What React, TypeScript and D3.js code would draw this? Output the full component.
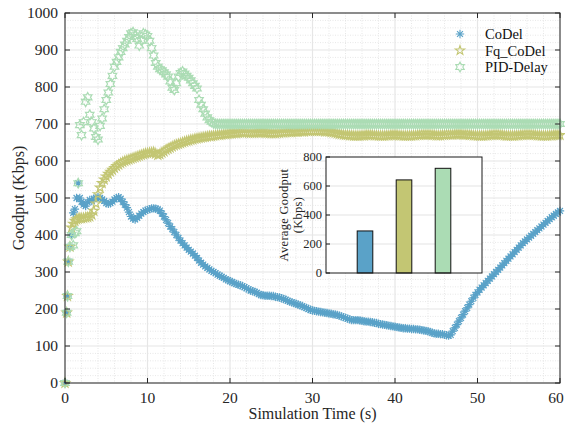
import React from "react";
import * as d3 from "d3";

// Sample times (s): irregular start-up samples, then every 0.25 s
const startupTime = [0, 0.2, 0.3, 0.4, 0.6, 0.8, 1.0, 1.2, 1.4, 1.6, 1.8];
const sampleTime = [...startupTime, ...d3.range(2, 60.001, 0.25)];

// Goodput (Kbps) per algorithm
const codelGoodput = [
  0, 190, 235, 328, 368, 400, 460, 470, 500, 540, 500,
  490, 482, 478, 488, 495, 492, 498, 500,
  502, 500, 496, 492, 486, 484, 486, 490,
  496, 500, 502, 498, 490, 482, 474, 462,
  450, 444, 442, 446, 452, 458, 462, 466,
  468, 470, 472, 472, 471, 469, 466, 458,
  450, 441, 432, 423, 416, 408, 400, 392,
  385, 378, 372, 366, 360, 355, 350, 344,
  338, 331, 325, 320, 315, 311, 307, 303,
  300, 297, 293, 290, 287, 284, 280, 278,
  275, 273, 270, 268, 266, 264, 262, 259,
  256, 253, 250, 248, 246, 244, 240, 238,
  237, 236, 236, 236, 235, 235, 233, 232,
  231, 229, 227, 225, 222, 220, 218, 216,
  214, 212, 210, 208, 205, 203, 200, 198,
  196, 195, 194, 193, 192, 191, 190, 189,
  188, 187, 186, 185, 184, 182, 180, 178,
  176, 174, 172, 170, 170, 170, 170, 169,
  168, 167, 166, 166, 165, 164, 163, 162,
  160, 159, 158, 157, 156, 155, 154, 153,
  152, 151, 150, 149, 148, 148, 147, 147,
  146, 146, 145, 145, 144, 143, 142, 141,
  140, 138, 136, 134, 133, 133, 132, 132,
  130, 129, 128, 130, 140, 149, 158, 167,
  176, 185, 194, 203, 212, 221, 230, 238,
  245, 252, 258, 264, 270, 276, 282, 288,
  294, 300, 306, 312, 318, 324, 330, 336,
  342, 348, 354, 360, 366, 372, 378, 383,
  388, 393, 398, 403, 408, 413, 418, 423,
  428, 433, 438, 443, 448, 452, 457, 461,
  465,
];
const fqCodelGoodput = [
  0, 190, 235, 328, 368, 420, 430, 438, 442, 444, 445,
  445, 446, 447, 448, 450, 455, 465, 485,
  510, 528, 540, 550, 558, 565, 571, 576,
  581, 586, 590, 594, 597, 600, 602, 604,
  606, 608, 610, 612, 614, 616, 618, 620,
  621, 622, 623, 624, 620, 616, 618, 622,
  626, 630, 633, 636, 639, 642, 644, 646,
  648, 650, 652, 654, 655, 657, 658, 660,
  661, 662, 663, 664, 665, 666, 667, 667,
  668, 669, 670, 670, 671, 672, 672, 673,
  674, 674, 675, 675, 676, 677, 677, 677,
  677, 676, 676, 676, 676, 677, 677, 677,
  677, 676, 676, 675, 675, 675, 675, 676,
  676, 677, 677, 678, 678, 678, 678, 679,
  679, 679, 680, 680, 680, 681, 681, 681,
  681, 681, 681, 681, 681, 681, 680, 680,
  679, 678, 677, 676, 674, 673, 672, 671,
  670, 670, 669, 669, 668, 668, 668, 668,
  669, 669, 670, 670, 670, 670, 669, 669,
  668, 668, 668, 668, 669, 669, 670, 670,
  670, 670, 669, 669, 668, 668, 668, 668,
  668, 669, 669, 670, 670, 671, 671, 671,
  671, 671, 670, 670, 669, 669, 669, 670,
  670, 671, 671, 671, 671, 672, 672, 672,
  672, 671, 671, 671, 670, 670, 669, 669,
  668, 668, 668, 668, 669, 669, 670, 670,
  671, 671, 671, 670, 670, 669, 668, 668,
  668, 668, 668, 669, 669, 670, 670, 671,
  671, 671, 671, 670, 670, 669, 669, 668,
  668, 668, 668, 669, 669, 670, 670, 670,
  670,
];
const pidDelayGoodput = [
  0, 190, 235, 328, 368, 400, 372, 405, 410, 540, 697,
  670, 705, 760, 772, 725, 705, 688, 665,
  658, 695, 715, 740, 765, 785, 808, 830,
  855, 868, 880, 895, 905, 915, 925, 935,
  945, 948, 940, 930, 912, 925, 945, 942,
  938, 925, 905, 885, 865, 855, 848, 845,
  840, 834, 828, 815, 798, 792, 810, 828,
  838, 842, 836, 830, 825, 818, 810, 803,
  796, 765, 752, 740, 728, 718, 710, 706,
  702, 700, 700, 700, 700, 700, 700, 700,
  700, 700, 700, 700, 700, 700, 700, 700,
  700, 700, 700, 700, 700, 700, 700, 700,
  700, 700, 700, 700, 700, 700, 700, 700,
  700, 700, 700, 700, 700, 700, 700, 700,
  700, 700, 700, 700, 700, 700, 700, 700,
  700, 700, 700, 700, 700, 700, 700, 700,
  700, 700, 700, 700, 700, 700, 700, 700,
  700, 700, 700, 700, 700, 700, 700, 700,
  700, 700, 700, 700, 700, 700, 700, 700,
  700, 700, 700, 700, 700, 700, 700, 700,
  700, 700, 700, 700, 700, 700, 700, 700,
  700, 700, 700, 700, 700, 700, 700, 700,
  700, 700, 700, 700, 700, 700, 700, 700,
  700, 700, 700, 700, 700, 700, 700, 700,
  700, 700, 700, 700, 700, 700, 700, 700,
  700, 700, 700, 700, 700, 700, 700, 700,
  700, 700, 700, 700, 700, 700, 700, 700,
  700, 700, 700, 700, 700, 700, 700, 700,
  700, 700, 700, 700, 700, 700, 700, 700,
  700, 700, 700, 700, 700, 700, 700, 700,
  700,
];

const seriesNames = ["CoDel", "Fq_CoDel", "PID-Delay"];
const seriesColors = ["#5aa2c8", "#c3c673", "#abdcb4"];
const averageGoodput = [290, 642, 722];

const xTicks = [0, 10, 20, 30, 40, 50, 60];
const yTicks = [0, 100, 200, 300, 400, 500, 600, 700, 800, 900, 1000];
const insetTicks = [0, 200, 400, 600, 800];

const FONT = "'Liberation Serif', 'Times New Roman', serif";

function starPath(points: number, outer: number, inner: number): string {
  const pts: string[] = [];
  for (let i = 0; i < points * 2; i++) {
    const r = i % 2 === 0 ? outer : inner;
    const a = -Math.PI / 2 + (i * Math.PI) / points;
    pts.push(`${(r * Math.cos(a)).toFixed(2)},${(r * Math.sin(a)).toFixed(2)}`);
  }
  return "M" + pts.join("L") + "Z";
}

const asteriskPath = (() => {
  const r = 4.2;
  const d = r * Math.SQRT1_2;
  return `M${-r},0L${r},0M0,${-r}L0,${r}M${-d},${-d}L${d},${d}M${-d},${d}L${d},${-d}`;
})();
const pentagramPath = starPath(5, 4.9, 1.9);
const hexagramPath = starPath(6, 4.9, 2.8);
const markerPaths = [asteriskPath, pentagramPath, hexagramPath];

export default function App() {
  const W = 565;
  const H = 427;
  const x = d3.scaleLinear().domain([0, 60]).range([65, 560]);
  const y = d3.scaleLinear().domain([0, 1000]).range([383, 13]);

  const series = [codelGoodput, fqCodelGoodput, pidDelayGoodput];

  const minorX = d3.range(0, 60.001, 2).filter((v) => v % 10 !== 0);
  const minorY = d3.range(0, 1000.001, 20).filter((v) => v % 100 !== 0);

  // inset bar chart scales
  const ix = d3.scaleLinear().domain([0, 4]).range([326, 482]);
  const iy = d3.scaleLinear().domain([0, 800]).range([273, 157]);
  const barW = ix(0.4) - ix(0);

  const [x0, x1] = x.range();
  const [y0, y1] = y.range();

  return (
    <svg width={W} height={H} style={{ position: "absolute", left: 0, top: 0, background: "#fff" }}>
      <rect x={0} y={0} width={W} height={H} fill="#fff" />
      {/* minor grid */}
      <g stroke="#d6d6d6" strokeWidth={0.6} strokeDasharray="1,1.5">
        {minorX.map((v) => (
          <line key={"mx" + v} x1={x(v)} x2={x(v)} y1={y1} y2={y0} />
        ))}
        {minorY.map((v) => (
          <line key={"my" + v} x1={x0} x2={x1} y1={y(v)} y2={y(v)} />
        ))}
      </g>
      {/* major grid */}
      <g stroke="#e6e6e6" strokeWidth={1.2}>
        {xTicks.map((v) => (
          <line key={"gx" + v} x1={x(v)} x2={x(v)} y1={y1} y2={y0} />
        ))}
        {yTicks.map((v) => (
          <line key={"gy" + v} x1={x0} x2={x1} y1={y(v)} y2={y(v)} />
        ))}
      </g>

      {/* series markers */}
      {series.map((vals, si) => (
        <g key={seriesNames[si]} fill="none" stroke={seriesColors[si]} strokeWidth={1.2}>
          {vals.map((v, i) => (
            <path
              key={i}
              d={markerPaths[si]}
              transform={`translate(${x(sampleTime[i]).toFixed(2)},${y(v).toFixed(2)})`}
            />
          ))}
        </g>
      ))}

      {/* axes box and ticks */}
      <g stroke="#262626" strokeWidth={1} fill="none">
        <rect x={x0} y={y1} width={x1 - x0} height={y0 - y1} />
        {xTicks.map((v) => (
          <g key={"tx" + v}>
            <line x1={x(v)} x2={x(v)} y1={y0} y2={y0 - 5} />
            <line x1={x(v)} x2={x(v)} y1={y1} y2={y1 + 5} />
          </g>
        ))}
        {yTicks.map((v) => (
          <g key={"ty" + v}>
            <line x1={x0} x2={x0 + 5} y1={y(v)} y2={y(v)} />
            <line x1={x1} x2={x1 - 5} y1={y(v)} y2={y(v)} />
          </g>
        ))}
      </g>
      <g fontFamily={FONT} fontSize={15.5} fill="#262626">
        {xTicks.map((v) => (
          <text key={"lx" + v} x={Math.min(x(v), W - 9)} y={y0 + 20} textAnchor="middle">
            {v}
          </text>
        ))}
        {yTicks.map((v) => (
          <text key={"ly" + v} x={x0 - 7} y={y(v) + 5} textAnchor="end">
            {v}
          </text>
        ))}
        <text x={(x0 + x1) / 2} y={419} textAnchor="middle" fontSize={16}>
          Simulation Time (s)
        </text>
        <text transform={`translate(24,${(y0 + y1) / 2}) rotate(-90)`} textAnchor="middle" fontSize={16}>
          Goodput (Kbps)
        </text>
      </g>

      {/* legend */}
      <g fontFamily={FONT} fontSize={14.5} fill="#111">
        {seriesNames.map((name, i) => (
          <g key={name} transform={`translate(460,${34 + i * 16.5})`}>
            <path d={markerPaths[i]} fill="none" stroke={seriesColors[i]} strokeWidth={1.1} />
            <text x={25} y={5}>
              {name}
            </text>
          </g>
        ))}
      </g>

      {/* inset: average goodput */}
      <g>
        <rect x={ix(0)} y={iy(800)} width={ix(4) - ix(0)} height={iy(0) - iy(800)} fill="#fff" />
        <g stroke="#e3e3e3" strokeWidth={1}>
          {insetTicks.slice(1, -1).map((v) => (
            <line key={"ig" + v} x1={ix(0)} x2={ix(4)} y1={iy(v)} y2={iy(v)} />
          ))}
        </g>
        {averageGoodput.map((v, i) => (
          <rect
            key={"bar" + i}
            x={ix(i + 1) - barW / 2}
            y={iy(v)}
            width={barW}
            height={iy(0) - iy(v)}
            fill={seriesColors[i]}
            stroke="#111"
            strokeWidth={1}
          />
        ))}
        <rect
          x={ix(0)}
          y={iy(800)}
          width={ix(4) - ix(0)}
          height={iy(0) - iy(800)}
          fill="none"
          stroke="#1a1a1a"
          strokeWidth={1}
        />
        <g stroke="#1a1a1a">
          {insetTicks.map((v) => (
            <line key={"it" + v} x1={ix(0)} x2={ix(0) + 4} y1={iy(v)} y2={iy(v)} />
          ))}
        </g>
        <g fontFamily={FONT} fontSize={12.5} fill="#262626">
          {insetTicks.map((v) => (
            <text key={"il" + v} x={ix(0) - 4} y={iy(v) + 4} textAnchor="end">
              {v}
            </text>
          ))}
          <text transform={`translate(288,${(iy(0) + iy(800)) / 2}) rotate(-90)`} textAnchor="middle" letterSpacing={0.3}>
            Average Goodput
          </text>
          <text transform={`translate(302,${(iy(0) + iy(800)) / 2}) rotate(-90)`} textAnchor="middle" letterSpacing={0.3}>
            (Kbps)
          </text>
        </g>
      </g>
    </svg>
  );
}
